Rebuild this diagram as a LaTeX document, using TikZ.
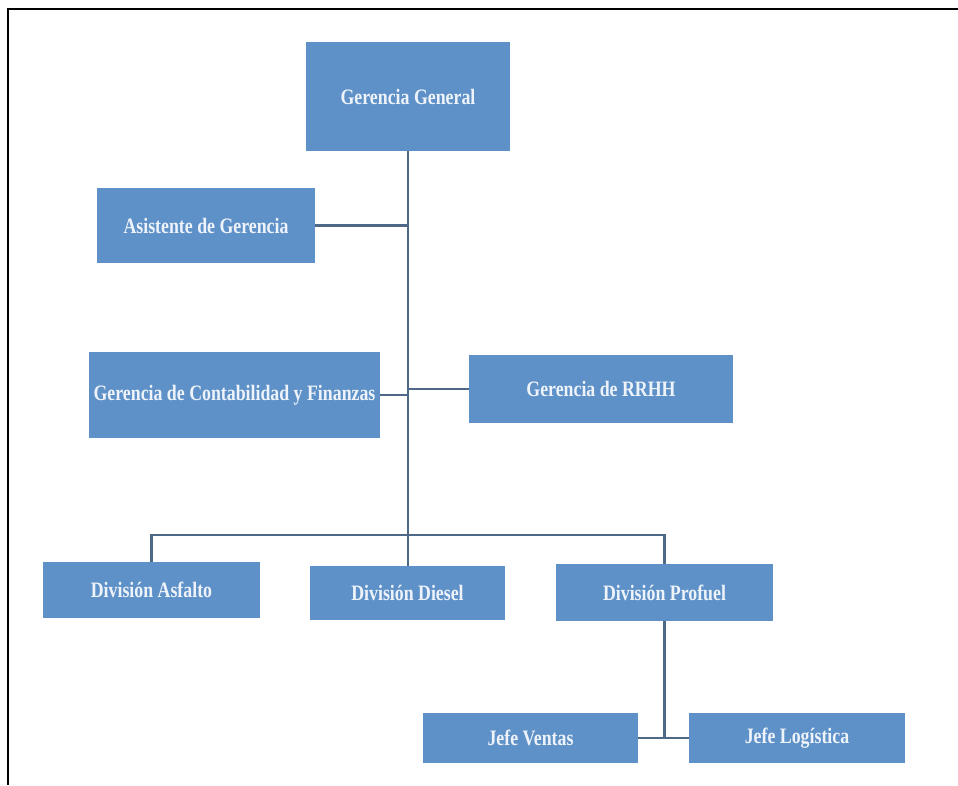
\documentclass[tikz,border=0pt]{standalone}
\usepackage{fontspec}
\setmainfont{Liberation Serif}[FakeStretch=0.81]
\usepackage{xcolor}
\usepackage{tikz}
\usetikzlibrary{positioning}
\definecolor{cajaazul}{RGB}{94,145,200}
\definecolor{lineaazul}{RGB}{78,104,135}
\definecolor{textoclaro}{RGB}{238,243,250}

\begin{document}
\begin{tikzpicture}[x=1pt,y=-1pt,
    every node/.style={font=\fontsize{22}{24}\selectfont\bfseries},
    caja/.style={fill=cajaazul,text=textoclaro,inner sep=0pt},
    enlace/.style={draw=lineaazul,line width=2.6pt}]
        \useasboundingbox (0,0) rectangle (958,785);
        \draw[line width=2pt] (958,9) -- (8,9) -- (8,785);
        \node[caja,minimum width=204,minimum height=109] (gg) at (408,96.5) {Gerencia General};
        \node[caja,minimum width=218,minimum height=75] (asis) at (206,225.5) {Asistente de Gerencia};
        \node[caja,minimum width=291,minimum height=86] (conta) at (234.5,395) {Gerencia de Contabilidad y Finanzas};
        \node[caja,minimum width=264,minimum height=68] (rrhh) at (601,389) {Gerencia de RRHH};
        \node[caja,minimum width=217,minimum height=56] (asf) at (151.5,590) {División Asfalto};
        \node[caja,minimum width=195,minimum height=54] (die) at (407.5,593) {División Diesel};
        \node[caja,minimum width=217,minimum height=57] (pro) at (664.5,592.5) {División Profuel};
        \node[caja,minimum width=215,minimum height=50] (ven) at (530.5,738) {Jefe Ventas};
        \node[caja,minimum width=216,minimum height=50] (log) at (797,738) {Jefe Logística};
        \coordinate (bus) at (408,535);
        \draw[enlace] (gg.south) -- (gg.south |- die.north);
        \draw[enlace] (asis.east) -- (asis.east -| gg.south);
        \draw[enlace] (conta.east) -- (conta.east -| gg.south);
        \draw[enlace] (rrhh.west) -- (rrhh.west -| gg.south);
        \draw[enlace] (asf.north) -- (asf.north |- bus) -- (pro.north |- bus) -- (pro.north);
        \draw[enlace] (pro.south) -- (pro.south |- ven.east);
        \draw[enlace] (ven.east) -- (log.west);
      \end{tikzpicture}
\end{document}
